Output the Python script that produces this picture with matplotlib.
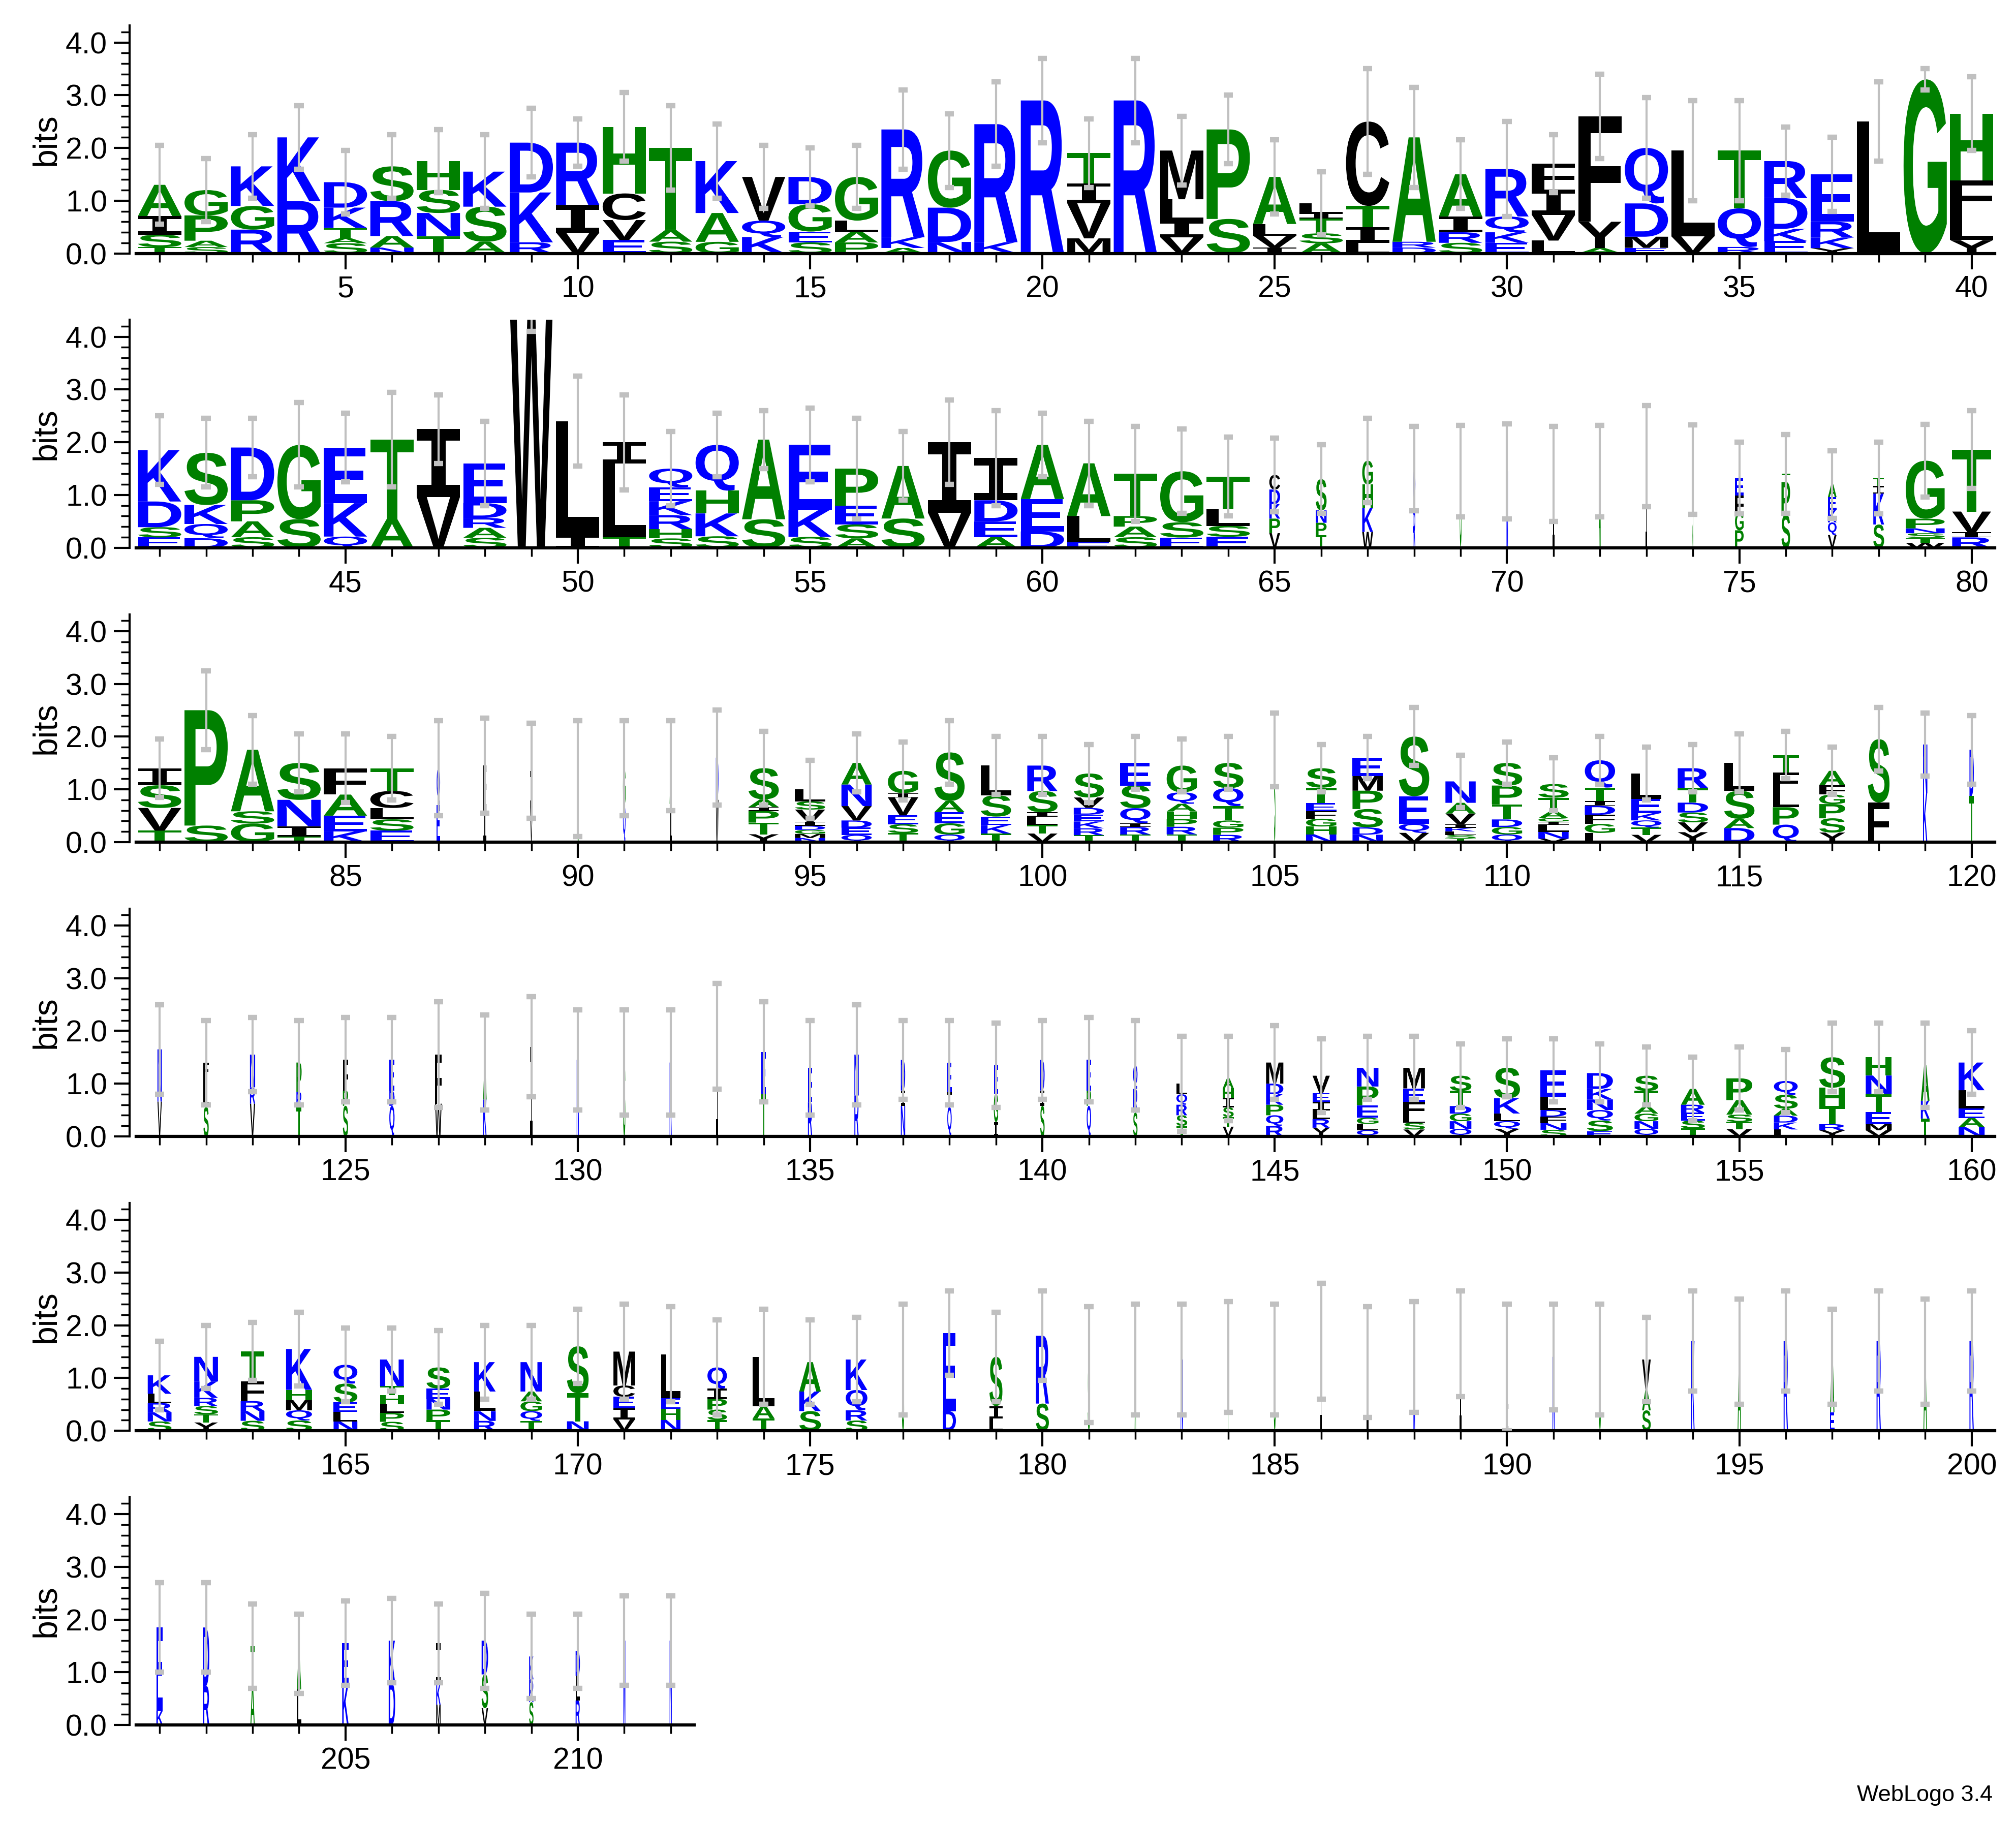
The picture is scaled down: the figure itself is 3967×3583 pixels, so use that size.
import re
import matplotlib
matplotlib.use('Agg')
import matplotlib.pyplot as plt
from matplotlib.textpath import TextPath
from matplotlib.patches import PathPatch
from matplotlib.font_manager import FontProperties
from matplotlib.transforms import Affine2D
from matplotlib.ticker import MultipleLocator

# letters in each column, top first, with relative weights
stacks = [
    # 1-40
    "A5I3S2T1", "G4P4A1S1", "K5G3R3", "K11R9", "D5K4T2A1S2", "S6R6A2N1", "H5S4N4T3", "K6S6A2",
    "D9K9R2", "R9I4V3", "H10C4V3E2", "T14A2S2", "K9A5G2", "V8Q3K3", "D5G5E2S2", "G8L2A2P2",
    "R20K2A1", "G10D6N2", "R21K2", "R29", "T6I4V7M3", "R29", "M9L4I3V3", "P13S5",
    "A8L2V2I1", "L2I1T3S2A2", "C16T4I3L2", "A18R1D1", "A8I3R2S2", "R9Q3K2E2", "F4I4V4L2", "F20Y5A1",
    "Q10D6M2E1", "L15V3", "T9Q6R1", "R6D5K2E2", "E9R3K2Y1", "L25", "G33", "H10F5L4Y2",
    # 41-80
    "K10D5S2E2", "S11K4Q3D2", "D10P4A3S2", "G13S5", "E10K6Q2", "T14A5", "I12V9", "E8D3R2A2S2",
    "W46", "L19I2", "I4L14T2", "Q4E3K3R3H2S2", "Q8H4K4S2", "A14S5", "E12K5S2", "P8E4S3A2",
    "A9S5", "I12V6", "I8D4E3A2", "A10E6D3", "A10L5E1", "T8P2A2S2", "G10S3E2", "T6L3S2E2",
    "C2D2K2P2V2", "S5N2P2T2", "G3H3K3W2", "Q1R1", "G", "N", "I", "A",
    "I", "S", "E2F2G2P2", "T1P4S4", "A2E2K2Q2V2", "T1I1K4S3", "G12P2N1S1T1W1", "T12V4I1R2",
    # 81-120
    "I3S4V4T2", "P21S3", "A10S2G3", "S7N5I2T1", "F5A4E3K2", "T4C3L2S2E2", "Q1E1", "F1I1",
    "I1V1", "A", "G1Q1", "A1I1", "D1W1", "S8A2I1P3T3Y2", "L3S2V3I1D1G1M1N1", "A6N6V4D2E2Q2",
    "G5I1V4E2S2T2", "S13A3E3G3Q2", "L7S5E2K2T2", "R6S5I1L2T2V2", "S7V3D2E2K2R2T2", "E6S6Q4I1R2T2", "G7Q3A2H2P2R2T2", "S7Q5T4G2P2R2",
    "S", "S5T4E2F2G2H2N2", "E5M4P5S5D2N2", "S13E6Q2V2", "N6A3V3I1K1L1S1T1", "S6P5T4D2G2Q2", "S4T4A2G1I1L2N2V1", "Q6T3I1D2F2G2L2",
    "L7E4K2Q2T2V2", "R4T3D2S2V2Y2", "L6S6A2D3", "T3F3L3P3Q3", "A3F2G2P3S3Y2", "S8F5", "N1K1", "D1T1",
    # 121-160
    "N3V2", "F1L2S2", "N2R1V2", "P2R1T2", "F2P1S2", "E2D1Q2", "F3W2", "A2K2",
    "I", "N", "S", "K", "I", "E2T2", "E2R2", "N2R2",
    "D2I1N2", "E2I1Q2", "E2G2I1", "D2I1S2", "E2P1Q2", "Q2R2S2", "L1Q1R1S1T1", "A1H1I1S1T1V1",
    "M4D2K2P2Q2R2", "V2E1I1L1R1Y1", "N3P3E2G1L1Q1", "M3E2F2L1S1V1", "S2T2D1G1N1Q1", "S4K2L1Q1Y1", "E4L2D1F1N1S1", "D3K2N2Q2S2E1",
    "S2T2A1G1N1Q1", "A2R1E1S1T1", "P3A2S1T1V1", "Q2S2A1D1K1L1", "S5H3T3R1Y1", "H3N3T3E2M1V1", "A2K1T1", "K3L2E1A1N1",
    # 161-200
    "K2L1R1N1S1", "N3K2R1S1T1Y1", "T3F2R1N1S1", "K4H1M1Q1S1", "Q2S2E1L1N1", "N3T1H1L1P1S1", "S2E1N1P1T1", "K3L2N1R1",
    "N3A1G1Q1T1", "S5T3N1", "M3C1E1I1V1", "L4E1H1N1", "Q2I1P1S1T1", "L4A1T1", "A3K2S2", "K3Q2R1S1",
    "S", "E8D2", "S4I1L1", "R5S2", "S", "A", "N", "T",
    "S", "I", "I", "N", "I", "I", "N", "S",
    "V3A2S2", "K", "A", "R", "A3E1", "R", "A", "R",
    # 201-212
    "E6K1", "D3R2", "T2A2", "A2L2", "E2K2", "K2D2", "I2K1M1", "D2S2V1",
    "K1R1S1", "D1L1R1", "N", "N",
]

heights = [
    1.3, 1.2, 1.65, 2.2, 1.35, 1.65, 1.75, 1.55, 2.1, 2.1, 2.4, 2.0, 1.75, 1.45, 1.45, 1.45,
    2.35, 1.95, 2.45, 2.9, 1.9, 2.9, 1.95, 2.35, 1.45, 0.95, 2.5, 2.2, 1.5, 1.6, 1.7, 2.6,
    2.0, 1.95, 1.95, 1.75, 1.5, 2.5, 3.3, 2.65,
    1.85, 1.8, 1.9, 1.95, 1.9, 2.05, 2.25, 1.6, 4.6, 2.4, 2.0, 1.5, 1.95, 2.05, 1.95, 1.5,
    1.55, 2.0, 1.7, 1.95, 1.6, 1.4, 1.45, 1.35, 1.38, 1.3, 1.65, 1.5, 1.45, 1.45, 1.4, 1.45,
    1.74, 1.48, 1.32, 1.4, 1.2, 1.32, 1.65, 1.86,
    1.4, 2.5, 1.75, 1.5, 1.4, 1.4, 1.4, 1.45, 1.35, 1.2, 1.4, 1.45, 1.6, 1.4, 1.0, 1.5,
    1.35, 1.7, 1.45, 1.45, 1.3, 1.5, 1.45, 1.5, 1.75, 1.4, 1.6, 2.0, 1.15, 1.5, 1.1, 1.55,
    1.3, 1.4, 1.5, 1.65, 1.35, 1.95, 1.85, 1.75,
    1.65, 1.4, 1.55, 1.4, 1.45, 1.45, 1.55, 1.4, 1.7, 1.45, 1.4, 1.4, 1.9, 1.6, 1.3, 1.55,
    1.45, 1.4, 1.35, 1.45, 1.45, 1.35, 1.0, 1.1, 1.4, 1.15, 1.3, 1.3, 1.15, 1.3, 1.25, 1.2,
    1.15, 0.9, 1.1, 1.05, 1.5, 1.5, 1.35, 1.4,
    1.05, 1.4, 1.5, 1.55, 1.25, 1.35, 1.2, 1.3, 1.3, 1.6, 1.5, 1.45, 1.2, 1.4, 1.3, 1.35,
    1.35, 1.85, 1.4, 1.8, 1.25, 1.35, 1.35, 1.4, 1.35, 1.7, 1.3, 1.4, 1.65, 0.5, 1.4, 1.35,
    1.35, 1.7, 1.5, 1.7, 1.4, 1.7, 1.5, 1.7,
    1.85, 1.85, 1.5, 1.35, 1.55, 1.6, 1.55, 1.6, 1.3, 1.4, 1.6, 1.6,
]

errs = [
    0.75, 0.6, 0.6, 0.6, 0.6, 0.6, 0.6, 0.7, 0.65, 0.45, 0.65, 0.8, 0.7, 0.6, 0.55, 0.6,
    0.75, 0.7, 0.8, 0.8, 0.65, 0.8, 0.65, 0.65, 0.7, 0.6, 1.0, 0.95, 0.65, 0.9, 0.55, 0.8,
    0.95, 0.95, 0.95, 0.65, 0.7, 0.75, 0.2, 0.7,
    0.65, 0.65, 0.55, 0.8, 0.65, 0.9, 0.65, 0.8, 0.5, 0.85, 0.9, 0.7, 0.6, 0.55, 0.7, 0.95,
    0.65, 0.8, 0.9, 0.6, 0.8, 0.9, 0.8, 0.75, 0.7, 0.65, 0.8, 0.8, 0.87, 0.9, 0.9, 0.87,
    0.96, 0.85, 0.68, 0.75, 0.64, 0.68, 0.69, 0.74,
    0.55, 0.75, 0.65, 0.55, 0.65, 0.6, 0.9, 0.9, 0.9, 1.1, 0.9, 0.85, 0.9, 0.7, 0.55, 0.55,
    0.55, 0.6, 0.55, 0.55, 0.55, 0.5, 0.5, 0.5, 0.7, 0.45, 0.4, 0.55, 0.5, 0.4, 0.5, 0.45,
    0.5, 0.45, 0.55, 0.45, 0.45, 0.6, 0.6, 0.65,
    0.85, 0.8, 0.7, 0.8, 0.8, 0.8, 1.0, 0.9, 0.95, 0.95, 1.0, 1.0, 1.0, 0.95, 0.9, 0.95,
    0.75, 0.8, 0.8, 0.75, 0.8, 0.85, 0.9, 0.8, 0.7, 0.7, 0.6, 0.6, 0.6, 0.55, 0.6, 0.55,
    0.55, 0.6, 0.6, 0.6, 0.65, 0.65, 0.8, 0.6,
    0.65, 0.6, 0.55, 0.7, 0.7, 0.6, 0.7, 0.7, 0.7, 0.7, 0.9, 0.9, 0.9, 0.9, 0.8, 0.8,
    1.05, 0.8, 0.85, 0.85, 1.1, 1.05, 1.05, 1.05, 1.05, 1.1, 1.05, 1.05, 1.0, 1.9, 1.0, 1.05,
    0.8, 0.95, 1.0, 0.95, 0.9, 0.95, 1.0, 0.95,
    0.85, 0.85, 0.8, 0.75, 0.8, 0.8, 0.75, 0.9, 0.8, 0.7, 0.85, 0.85,
]

# fraction of the column width the letters take (column occupancy)
widths = [1.0] * 64 + [
    0.25, 0.25, 0.25, 0.06, 0.04, 0.04, 0.05, 0.04, 0.03, 0.02, 0.2, 0.2, 0.2, 0.25, 0.9, 0.9,
    1.0, 1.0, 1.0, 1.0, 1.0, 1.0, 0.08, 0.08, 0.06, 0.04, 0.06, 0.05, 0.06, 0.7, 0.7, 0.7,
    0.7, 0.7, 0.7, 0.7, 0.7, 0.7, 0.7, 0.7, 0.03, 0.7, 0.7, 0.7, 0.7, 0.7, 0.7, 0.7,
    0.7, 0.7, 0.7, 0.6, 0.6, 0.5, 0.1, 0.1,
    0.1, 0.12, 0.12, 0.12, 0.12, 0.12, 0.15, 0.08, 0.05, 0.05, 0.05, 0.05, 0.05, 0.1, 0.1, 0.1,
    0.1, 0.1, 0.1, 0.1, 0.1, 0.1, 0.25, 0.25, 0.4, 0.4, 0.5, 0.5, 0.5, 0.6, 0.6, 0.6,
    0.55, 0.55, 0.6, 0.55, 0.6, 0.6, 0.2, 0.6,
    0.55, 0.55, 0.55, 0.6, 0.55, 0.55, 0.55, 0.5, 0.5, 0.5, 0.5, 0.45, 0.45, 0.5, 0.5, 0.5,
    0.05, 0.3, 0.3, 0.3, 0.05, 0.03, 0.05, 0.04, 0.04, 0.04, 0.04, 0.04, 0.05, 0.05, 0.05, 0.04,
    0.2, 0.08, 0.08, 0.1, 0.1, 0.1, 0.08, 0.1,
    0.15, 0.15, 0.1, 0.1, 0.15, 0.15, 0.1, 0.15, 0.1, 0.1, 0.05, 0.05,
]

colors = {}
for c in 'RKDENQ':
    colors[c] = '#0000FF'
for c in 'SGHTAP':
    colors[c] = '#008000'
for c in 'YVMCLFIW':
    colors[c] = '#000000'

fp = FontProperties(family='Liberation Sans', weight='bold')
fp_i = FontProperties(family='DejaVu Sans Mono', weight='bold')  # serifed I like WebLogo
W, H = 1546.0, 1423.0   # layout measured in reference display pixels
PX = 35.63              # pixels per column


def draw_letter(ax, ch, x0, y0, w, h):
    tp = TextPath((0, 0), ch, size=1, prop=fp_i if ch == 'I' else fp)
    bb = tp.get_extents()
    tr = Affine2D().translate(-bb.x0, -bb.y0).scale(w / bb.width, h / bb.height).translate(x0, y0)
    ax.add_patch(PathPatch(tr.transform_path(tp), fc=colors[ch], lw=0))


plt.rcParams['font.family'] = ['Liberation Sans', 'DejaVu Sans']
fig = plt.figure(figsize=(15.868, 14.332), dpi=250)

n = len(stacks)
for row in range(6):
    first = row * 40 + 1
    last = min(first + 39, n)
    ncol = last - first + 1
    left = 104.6 / W
    bottom = 1 - (198 + 230 * row) / H
    ax = fig.add_axes([left, bottom, ncol * PX / W, 178 / H])
    for pos in range(first, last + 1):
        i = pos - 1
        toks = [(c, float(wt) if wt else 1.0) for c, wt in re.findall(r'([A-Z])(\d*)', stacks[i])]
        tot = sum(t[1] for t in toks)
        w = 0.93 * widths[i]
        y = 0.0
        for c, wt in reversed(toks):
            hh = heights[i] * wt / tot
            draw_letter(ax, c, pos - w / 2, y, w, hh)
            y += hh
        lo = max(heights[i] - errs[i], 0)
        hi = heights[i] + errs[i]
        ax.plot([pos, pos], [lo, hi], color='#c0c0c0', lw=1.2, zorder=3)
        for yy in (lo, hi):
            ax.plot([pos - 0.1, pos + 0.1], [yy, yy], color='#c0c0c0', lw=3, zorder=3,
                    solid_capstyle='butt')
    ax.set_xlim(first - 0.5, last + 0.5)
    ax.set_ylim(0, 4.32)
    ax.spines['top'].set_visible(False)
    ax.spines['right'].set_visible(False)
    ax.spines['left'].set_position(('outward', 4))
    ax.spines['left'].set_linewidth(1.2)
    ax.spines['bottom'].set_linewidth(1.8)
    ax.xaxis.set_major_locator(MultipleLocator(5))
    ax.xaxis.set_minor_locator(MultipleLocator(1))
    ax.yaxis.set_minor_locator(MultipleLocator(0.2))
    ax.set_yticks([0, 1, 2, 3, 4])
    ax.set_yticklabels(['0.0', '1.0', '2.0', '3.0', '4.0'])
    ax.tick_params(which='major', length=9, width=1.2, labelsize=17)
    ax.tick_params(which='minor', length=5, width=1.0)
    ax.set_ylabel('bits', fontsize=19, labelpad=2)

fig.text(1528 / W, 1 - 1403 / H, 'WebLogo 3.4', ha='right', va='center', fontsize=13)
fig.savefig('out.png', dpi=250)
